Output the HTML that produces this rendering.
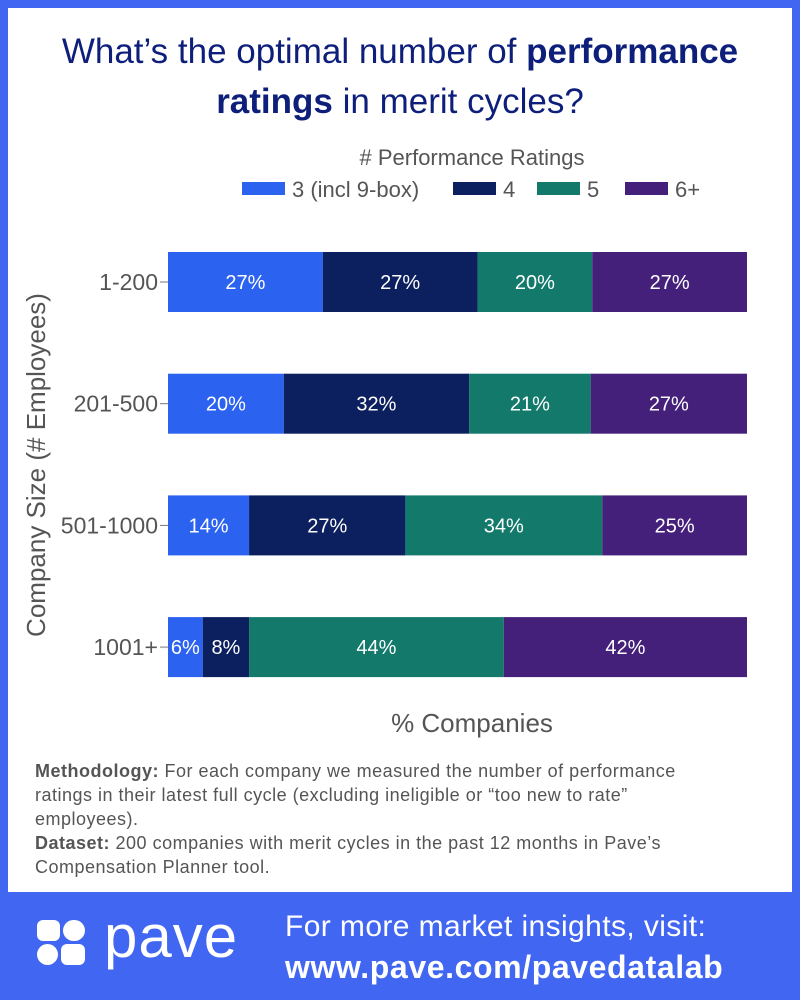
<!DOCTYPE html>
<html><head><meta charset="utf-8">
<style>
body{margin:0;width:800px;height:1000px;background:#4166f2;font-family:"Liberation Sans",sans-serif;position:relative;overflow:hidden}
#card{position:absolute;left:8px;top:8px;width:784px;height:884px;background:#fff}
.t{position:absolute;white-space:nowrap}
</style></head><body>
<div id="card"></div>
<div class="t" style="left:0;width:800px;top:27px;text-align:center;font-size:35px;line-height:50px;color:#0d1f7a">What’s the optimal number of <b>performance</b><br><b>ratings</b> in merit cycles?</div>
<svg id="chart" width="800" height="1000" style="position:absolute;left:0;top:0"></svg>
<div class="t" style="left:35px;top:759px;font-size:18px;letter-spacing:0.5px;line-height:24px;color:#555">
<b>Methodology:</b> For each company we measured the number of performance<br>ratings in their latest full cycle (excluding ineligible or “too new to rate”<br>employees).<br><b>Dataset:</b> 200 companies with merit cycles in the past 12 months in Pave’s<br>Compensation Planner tool.</div>
<div style="position:absolute;left:37px;top:920px;width:50px;height:50px">
<div style="position:absolute;left:0;top:0;width:23px;height:21px;background:#fff;border-radius:6px"></div>
<div style="position:absolute;left:26px;top:0;width:22px;height:21px;background:#fff;border-radius:11px"></div>
<div style="position:absolute;left:0;top:24px;width:21px;height:21px;background:#fff;border-radius:11px"></div>
<div style="position:absolute;left:24px;top:24px;width:24px;height:21px;background:#fff;border-radius:6px"></div>
</div>
<div class="t" style="left:104px;top:902px;font-size:60px;color:#fff;letter-spacing:1px">pave</div>
<div class="t" style="left:285px;top:906px;font-size:30px;letter-spacing:0.4px;line-height:41px;color:#fff">For more market insights, visit:<br><b style="font-size:32px;letter-spacing:0.6px">www.pave.com/pavedatalab</b></div>
<script>
const categories=["1-200","201-500","501-1000","1001+"];
const seriesNames=["3 (incl 9-box)","4","5","6+"];
const s3=[27,20,14,6];
const s4=[27,32,27,8];
const s5=[20,21,34,44];
const s6=[27,27,25,42];
const colors=["#2b62f0","#0c1f5e","#12796b","#45207a"];
const svg=document.getElementById('chart');
const NS="http://www.w3.org/2000/svg";
function mk(t,a,txt){const e=document.createElementNS(NS,t);for(const k in a)e.setAttribute(k,a[k]);if(txt!==undefined)e.textContent=txt;svg.appendChild(e);return e;}
const x0=168,x1=747,rowTop=252,rowStep=121.7,barH=60;
function xs(frac){return x0+frac*(x1-x0);}
function yb(i){return rowTop+i*rowStep;}
const series=[s3,s4,s5,s6];
categories.forEach((c,i)=>{
  const tot=series.reduce((a,s)=>a+s[i],0);
  let acc=0;
  const lab=mk('text',{x:158,y:yb(i)+barH/2+8,'text-anchor':'end','font-size':23,fill:'#555'},c);
  
  
  mk('line',{x1:160,x2:168,y1:yb(i)+barH/2,y2:yb(i)+barH/2,stroke:'#777'});
  series.forEach((s,k)=>{
    const xa=xs(acc/tot),xb=xs((acc+s[i])/tot);acc+=s[i];
    const r=mk('rect',{x:xa,y:yb(i),width:xb-xa,height:barH,fill:colors[k]});
    
    
    const t=mk('text',{x:(xa+xb)/2,y:yb(i)+barH/2+7,'text-anchor':'middle','font-size':20,fill:'#fff'},s[i]+'%');
    
    
  });
});
const yt=mk('text',{x:0,y:0,transform:'translate(45,465) rotate(-90)','text-anchor':'middle','font-size':26,fill:'#555'},'Company Size (# Employees)');


const xt=mk('text',{x:472,y:732,'text-anchor':'middle','font-size':26,fill:'#555'},'% Companies');


const lt=mk('text',{x:472,y:165,'text-anchor':'middle','font-size':22,fill:'#555'},'# Performance Ratings');


const lx=[242,453,537,625];
seriesNames.forEach((n,k)=>{
  const r=mk('rect',{x:lx[k],y:182,width:43,height:13,fill:colors[k]});
  
  
  const t=mk('text',{x:lx[k]+50,y:197,'font-size':22,fill:'#555'},n);
  
  
});
</script>
</body></html>
